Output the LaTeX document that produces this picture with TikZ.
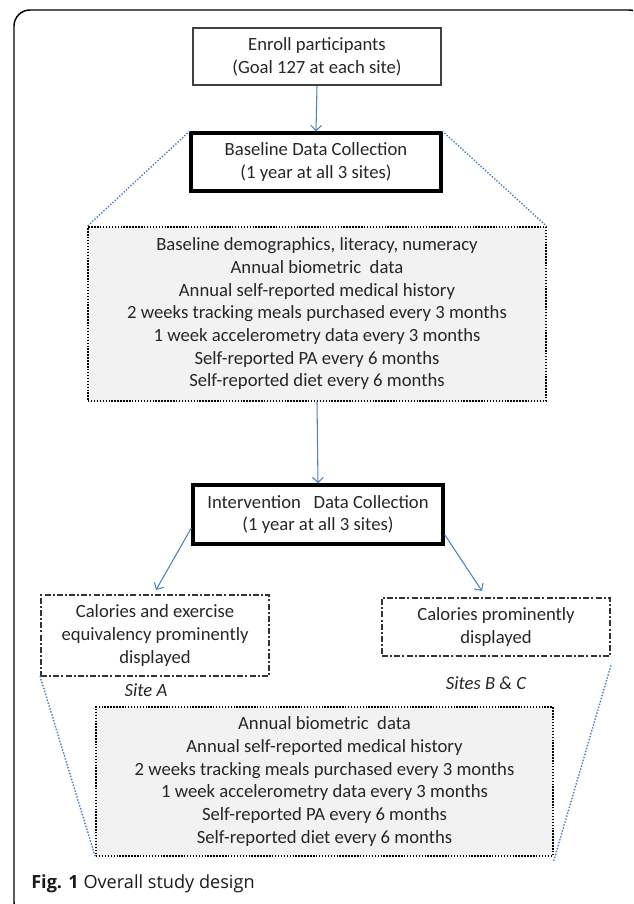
\documentclass[tikz,border=0pt]{standalone}
\usepackage{fontspec}
\setmainfont{Carlito}
\newfontfamily\capfont{Open Sans}
\usepackage{xcolor}
\usepackage{tikz}
\usetikzlibrary{arrows.meta}
\definecolor{linkblue}{RGB}{79,129,189}
\definecolor{boxgray}{RGB}{242,242,242}

\begin{document}
\begin{tikzpicture}[x=0.75pt,y=-0.75pt,
    every node/.style={font=\fontsize{14}{17}\selectfont, text=black!85, align=center, inner sep=0pt},
    thinbox/.style={draw=black!75, line width=0.8pt},
    thickbox/.style={draw=black, line width=2.4pt, minimum width=187.5pt},
    listbox/.style={draw=black, fill=boxgray, line width=1.1pt, dash pattern=on 1.1pt off 1.1pt},
    sitebox/.style={draw=black!80, line width=1.1pt, dash pattern=on 4.5pt off 1.6pt on 1.5pt off 1.6pt, minimum width=171pt},
    sitelabel/.style={font=\fontsize{14}{17}\selectfont\itshape},
    flow/.style={draw=linkblue, line width=0.8pt, -{Straight Barb[length=4pt,width=8pt]}},
    zoomline/.style={draw=linkblue, line width=1.5pt, line cap=round, dash pattern=on 0pt off 2.3pt}]
        \path[use as bounding box, clip] (0,0) rectangle (633,904);
        %FRAME
        \draw[line width=1.1pt, rounded corners=12pt] (14,10) rectangle (645,918);
        %ENROLL
        \node[thinbox, minimum width=186pt, minimum height=42.75pt] (enroll) at (317,56.5) {Enroll participants\\(Goal 127 at each site)};
        %BASELINE
        \node[thickbox, minimum height=43.5pt] (base) at (316,162) {Baseline Data Collection\\(1 year at all 3 sites)};
        \node[listbox, minimum width=343.5pt, minimum height=130.5pt] (baselist) at (317,314) {Baseline demographics, literacy, numeracy\\Annual biometric\ \ data\\Annual self-reported medical history\\2 weeks tracking meals purchased every 3 months\\1 week accelerometry data every 3 months\\Self-reported PA every 6 months\\Self-reported diet every 6 months};
        %INTERVENTION
        \node[thickbox, minimum height=44.25pt] (interv) at (318,514.5) {Intervention\ \ \ Data Collection\\(1 year at all 3 sites)};
        \node[sitebox, minimum height=60.75pt] (siteA) at (155,635.5) {Calories and exercise\\equivalency prominently\\displayed};
        \node[sitebox, minimum height=43.5pt] (siteBC) at (496,627) {Calories prominently\\displayed};
        \node[sitelabel] (labA) at (146,690) {Site A};
        \node[sitelabel] (labBC) at (486,683) {Sites B \& C};
        \node[listbox, minimum width=342.75pt, minimum height=111.75pt] (intlist) at (324.5,781.5) {Annual biometric\ \ data\\Annual self-reported medical history\\2 weeks tracking meals purchased every 3 months\\1 week accelerometry data every 3 months\\Self-reported PA every 6 months\\Self-reported diet every 6 months};
        %ARROWS
        \coordinate (tipA) at (156,590);
        \coordinate (tipBC) at (482,591);
        \draw[flow] (enroll.south) -- (base.north);
        \draw[flow] (baselist.south) -- (interv.north);
        \draw[flow] (interv.186) -- (tipA);
        \draw[flow] (interv.-9) -- (tipBC);
        %ZOOM LINES
        \draw[zoomline] (base.north west) -- (baselist.north west);
        \draw[zoomline] (base.north east) -- (baselist.north east);
        \draw[zoomline] (siteA.south west) -- (intlist.south west);
        \draw[zoomline] ([yshift=-7pt]siteBC.south east) -- ([yshift=-3pt]intlist.south east);
        %CAPTION
        \node[anchor=base west, font=\capfont\fontsize{13.6}{16}\selectfont, text=black!90] (caption) at (31,888) {\textbf{Fig. 1} Overall study design};
    \end{tikzpicture}
\end{document}
